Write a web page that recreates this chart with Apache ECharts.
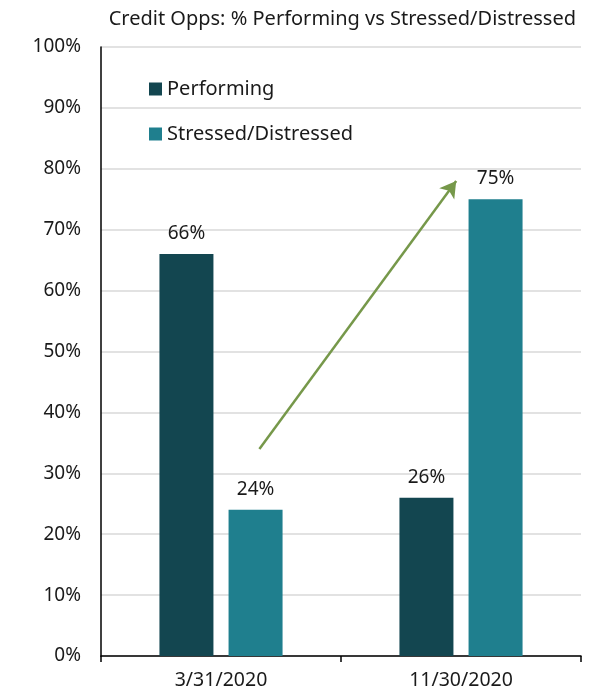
<!DOCTYPE html>
<html>
<head>
<meta charset="utf-8">
<script src="https://cdn.jsdelivr.net/npm/echarts@6/dist/echarts.min.js"></script>
<style>
  html, body { margin: 0; padding: 0; background: #fff; }
  #chart { width: 593px; height: 693px; }
</style>
</head>
<body>
<div id="chart"></div>
<script>
// Share of credit opportunities, by date
const categories = ['3/31/2020', '11/30/2020'];
const performing = [66, 26];
const stressed = [24, 75];
const yTicks = [0, 10, 20, 30, 40, 50, 60, 70, 80, 90, 100];
// Trend arrow endpoints, in (category position, percent) units
const trendArrow = [[0.66, 34], [1.48, 78]];

const FONT = '"Noto Sans", "Open Sans", sans-serif';
const chart = echarts.init(document.getElementById('chart'), null, { renderer: 'canvas' });

const labelStyle = {
  show: true,
  position: 'top',
  distance: 11,
  formatter: p => p.value + '%',
  color: '#1a1a1a',
  fontSize: 19,
  fontFamily: FONT
};

chart.setOption({
  animation: false,
  backgroundColor: '#fff',
  title: {
    text: 'Credit Opps: % Performing vs Stressed/Distressed',
    right: 12,
    top: 4,
    textStyle: { fontSize: 20, fontWeight: 'normal', color: '#1a1a1a', fontFamily: FONT }
  },
  legend: {
    orient: 'vertical',
    left: 144,
    top: 74,
    itemGap: 25,
    itemWidth: 13,
    itemHeight: 13,
    icon: 'rect',
    textStyle: { fontSize: 20, color: '#1a1a1a', fontFamily: FONT },
    data: ['Performing', 'Stressed/Distressed']
  },
  grid: { left: 101, right: 12, top: 47, bottom: 37 },
  xAxis: [
    {
      type: 'category',
      data: categories,
      axisLine: { lineStyle: { color: '#000', width: 1.5 } },
      axisTick: { show: true, length: 6, lineStyle: { color: '#000', width: 1.5 } },
      axisLabel: { fontSize: 19.5, color: '#1a1a1a', fontFamily: FONT, margin: 14 }
    },
    {
      type: 'value',
      min: 0,
      max: 2,
      show: false
    }
  ],
  yAxis: {
    type: 'value',
    min: yTicks[0],
    max: yTicks[yTicks.length - 1],
    interval: 10,
    axisLine: { show: true, lineStyle: { color: '#000', width: 1.5 } },
    axisTick: { show: false },
    axisLabel: { formatter: '{value}%', fontSize: 19, color: '#1a1a1a', fontFamily: FONT, margin: 20 },
    splitLine: { lineStyle: { color: '#d9d9d9', width: 1.5 } }
  },
  series: [
    {
      name: 'Performing',
      type: 'bar',
      data: performing,
      barWidth: 54,
      barGap: '28%',
      itemStyle: { color: '#134650' },
      label: labelStyle
    },
    {
      name: 'Stressed/Distressed',
      type: 'bar',
      data: stressed,
      barWidth: 54,
      barGap: '28%',
      itemStyle: { color: '#1f7f8e' },
      label: labelStyle
    },
    {
      name: 'trend',
      type: 'scatter',
      xAxisIndex: 1,
      data: trendArrow,
      symbolSize: 0,
      silent: true,
      markLine: {
        silent: true,
        symbol: ['none', 'arrow'],
        symbolSize: [14, 16],
        label: { show: false },
        lineStyle: { color: '#76984a', width: 2.5, type: 'solid' },
        data: [[{ coord: trendArrow[0] }, { coord: trendArrow[1] }]]
      }
    }
  ]
});
</script>
</body>
</html>
